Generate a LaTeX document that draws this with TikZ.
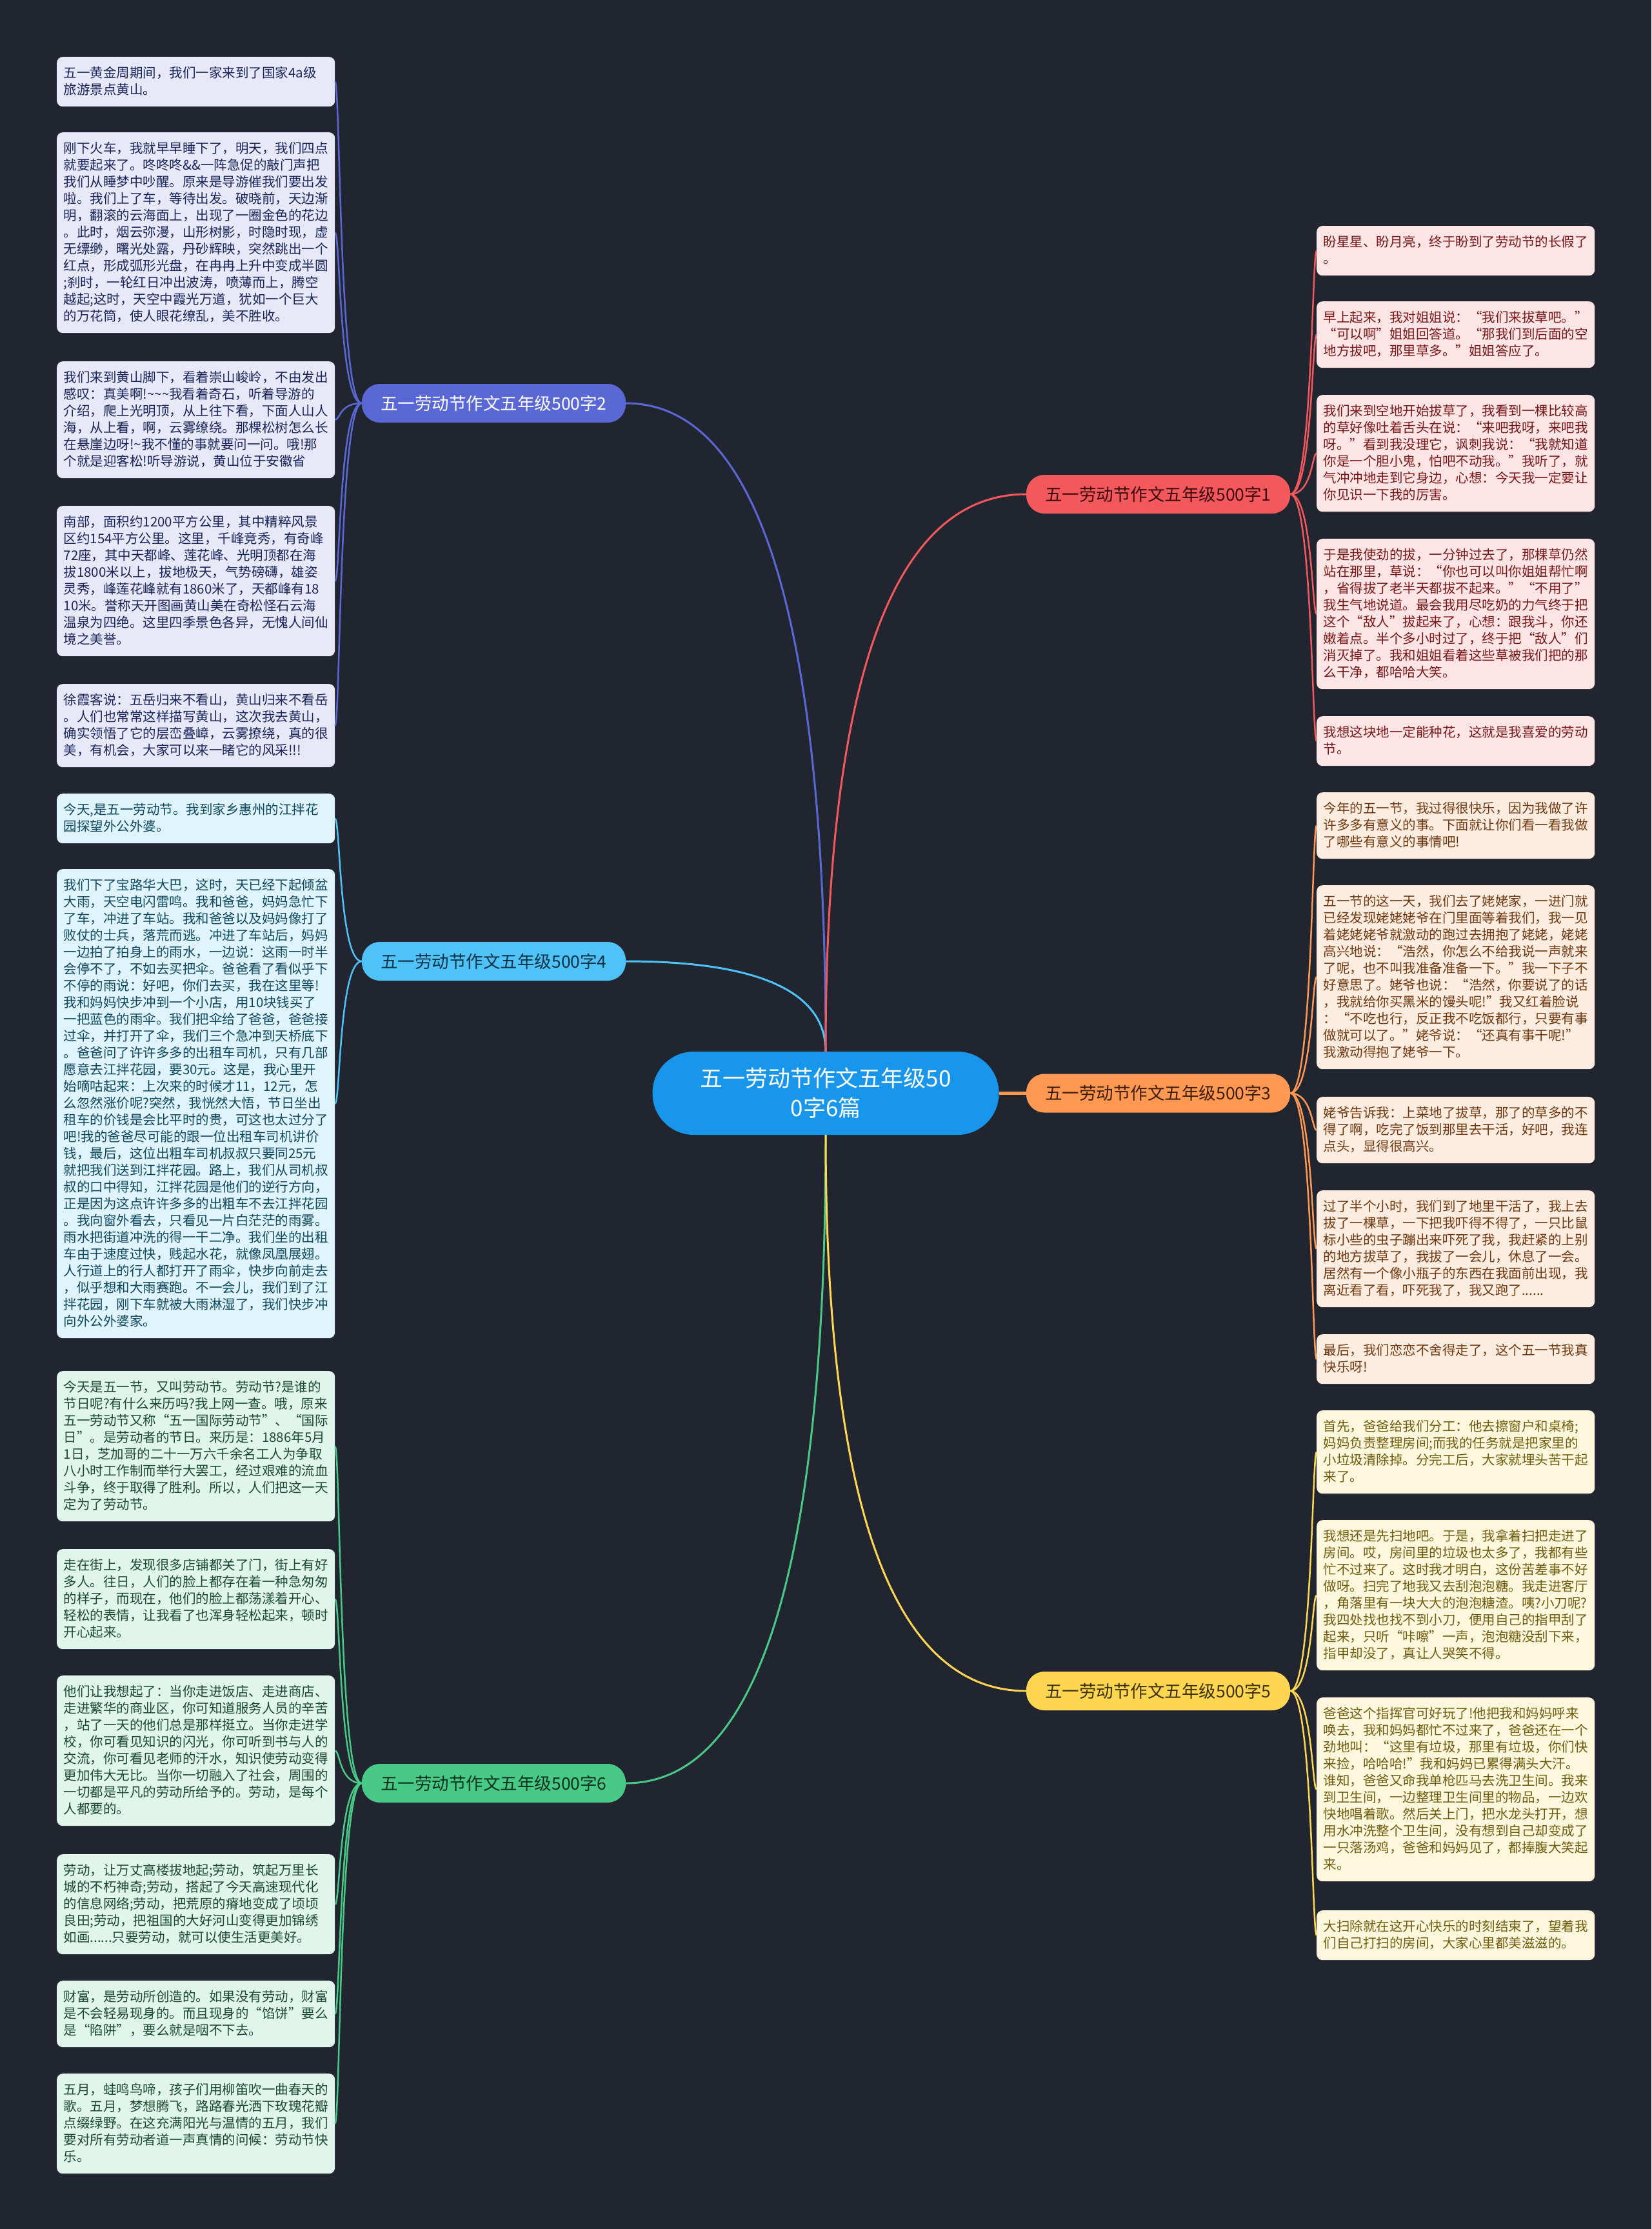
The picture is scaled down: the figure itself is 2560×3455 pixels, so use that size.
\documentclass[tikz,border=0pt]{standalone}
\usepackage{fontspec}
\setmainfont{Noto Sans CJK SC}
\definecolor{bg}{RGB}{33,37,48}
\definecolor{rootc}{RGB}{24,150,235}
\definecolor{c1}{RGB}{242,88,92}
\definecolor{c2}{RGB}{90,104,214}
\definecolor{c3}{RGB}{255,152,82}
\definecolor{c4}{RGB}{79,195,247}
\definecolor{c5}{RGB}{255,214,82}
\definecolor{c6}{RGB}{72,202,134}
\definecolor{f1}{RGB}{253,229,229}\definecolor{t1}{RGB}{122,22,24}
\definecolor{f2}{RGB}{231,233,248}\definecolor{t2}{RGB}{26,36,92}
\definecolor{f3}{RGB}{253,236,224}\definecolor{t3}{RGB}{112,56,16}
\definecolor{f4}{RGB}{223,244,253}\definecolor{t4}{RGB}{14,72,94}
\definecolor{f5}{RGB}{253,247,222}\definecolor{t5}{RGB}{112,92,14}
\definecolor{f6}{RGB}{224,245,235}\definecolor{t6}{RGB}{28,74,48}
\definecolor{bt1}{RGB}{60,10,10}
\definecolor{bt3}{RGB}{60,30,5}
\definecolor{bt4}{RGB}{10,50,70}
\definecolor{bt5}{RGB}{60,50,0}
\definecolor{bt6}{RGB}{10,50,30}
\newcommand{\mlin}[1]{\rule[-6.5pt]{0pt}{26pt}\mbox{#1}}
\tikzset{
  leaf/.style={anchor=north west, rounded corners=9pt, inner xsep=10.5pt, inner ysep=12.5pt,
    text width=410pt, align=left, font=\fontsize{20.5pt}{26pt}\selectfont},
  leafa/.style={leaf, fill=f1, text=t1},
  leafb/.style={leaf, fill=f2, text=t2},
  leafc/.style={leaf, fill=f3, text=t3},
  leafd/.style={leaf, fill=f4, text=t4},
  leafe/.style={leaf, fill=f5, text=t5},
  leaff/.style={leaf, fill=f6, text=t6},
  branch/.style={rounded corners=28pt, minimum width=409pt, minimum height=60pt, inner sep=0pt,
    font=\fontsize{26.5pt}{30pt}\selectfont},
  rootnode/.style={rounded corners=64pt, minimum width=537pt, minimum height=129pt, inner sep=0pt,
    fill=rootc, text=white, align=center, font=\fontsize{35pt}{46pt}\selectfont},
  lk/.style={line width=2.5pt},
  rk/.style={line width=3pt},
}
\begin{document}
\begin{tikzpicture}[x=1pt,y=-1pt]
\useasboundingbox (0,0) rectangle (2560,3455);
\fill[bg] (0,0) rectangle (2560,3455);

% root and branches
\node[rootnode] (root) at (1280,1694.5) {五一劳动节作文五年级50\\0字6篇};
\node[branch, fill=c2, text=white] (b2) at (765.5,625) {五一劳动节作文五年级500字2};
\node[branch, fill=c4, text=bt4] (b4) at (765.5,1490) {五一劳动节作文五年级500字4};
\node[branch, fill=c6, text=bt6] (b6) at (765.5,2764) {五一劳动节作文五年级500字6};
\node[branch, fill=c1, text=bt1] (b1) at (1795.5,766) {五一劳动节作文五年级500字1};
\node[branch, fill=c3, text=bt3] (b3) at (1795.5,1694.5) {五一劳动节作文五年级500字3};
\node[branch, fill=c5, text=bt5] (b5) at (1795.5,2621) {五一劳动节作文五年级500字5};

% root connectors
\draw[rk, c2] (root.north) .. controls (1280,960) and (1176,625) .. (b2.east);
\draw[rk, c4] (root.north) .. controls (1280,1537) and (1176,1490) .. (b4.east);
\draw[rk, c1] (root.north) .. controls (1280,1054) and (1384,766) .. (b1.west);
\draw[rk, c6] (root.south) .. controls (1280,2429) and (1176,2764) .. (b6.east);
\draw[rk, c5] (root.south) .. controls (1280,2334) and (1384,2621) .. (b5.west);
\draw[line width=4.5pt, c3] (root.east) -- (b3.west);

% ---------- branch 2 leaves ----------
\node[leafb] (l2a) at (88,88) {\mlin{五一黄金周期间，我们一家来到了国家4a级}\\\mlin{旅游景点黄山。}};
\node[leafb] (l2b) at (88,205) {\mlin{刚下火车，我就早早睡下了，明天，我们四点}\\\mlin{就要起来了。咚咚咚\&\&一阵急促的敲门声把}\\\mlin{我们从睡梦中吵醒。原来是导游催我们要出发}\\\mlin{啦。我们上了车，等待出发。破晓前，天边渐}\\\mlin{明，翻滚的云海面上，出现了一圈金色的花边}\\\mlin{。此时，烟云弥漫，山形树影，时隐时现，虚}\\\mlin{无缥缈，曙光处露，丹砂辉映，突然跳出一个}\\\mlin{红点，形成弧形光盘，在冉冉上升中变成半圆}\\\mlin{;刹时，一轮红日冲出波涛，喷薄而上，腾空}\\\mlin{越起;这时，天空中霞光万道，犹如一个巨大}\\\mlin{的万花筒，使人眼花缭乱，美不胜收。}};
\node[leafb] (l2c) at (88,560) {\mlin{我们来到黄山脚下，看着崇山峻岭，不由发出}\\\mlin{感叹：真美啊!\textasciitilde\textasciitilde\textasciitilde 我看着奇石，听着导游的}\\\mlin{介绍，爬上光明顶，从上往下看，下面人山人}\\\mlin{海，从上看，啊，云雾缭绕。那棵松树怎么长}\\\mlin{在悬崖边呀!\textasciitilde 我不懂的事就要问一问。哦!那}\\\mlin{个就是迎客松!听导游说，黄山位于安徽省}};
\node[leafb] (l2d) at (88,784) {\mlin{南部，面积约1200平方公里，其中精粹风景}\\\mlin{区约154平方公里。这里，千峰竞秀，有奇峰}\\\mlin{72座，其中天都峰、莲花峰、光明顶都在海}\\\mlin{拔1800米以上，拔地极天，气势磅礴，雄姿}\\\mlin{灵秀，峰莲花峰就有1860米了，天都峰有18}\\\mlin{10米。誉称天开图画黄山美在奇松怪石云海}\\\mlin{温泉为四绝。这里四季景色各异，无愧人间仙}\\\mlin{境之美誉。}};
\node[leafb] (l2e) at (88,1060) {\mlin{徐霞客说：五岳归来不看山，黄山归来不看岳}\\\mlin{。人们也常常这样描写黄山，这次我去黄山，}\\\mlin{确实领悟了它的层峦叠嶂，云雾撩绕，真的很}\\\mlin{美，有机会，大家可以来一睹它的风采!!!}};

% ---------- branch 4 leaves ----------
\node[leafd] (l4a) at (88,1230) {\mlin{今天,是五一劳动节。我到家乡惠州的江拌花}\\\mlin{园探望外公外婆。}};
\node[leafd] (l4b) at (88,1347) {\mlin{我们下了宝路华大巴，这时，天已经下起倾盆}\\\mlin{大雨，天空电闪雷鸣。我和爸爸，妈妈急忙下}\\\mlin{了车，冲进了车站。我和爸爸以及妈妈像打了}\\\mlin{败仗的士兵，落荒而逃。冲进了车站后，妈妈}\\\mlin{一边拍了拍身上的雨水，一边说：这雨一时半}\\\mlin{会停不了，不如去买把伞。爸爸看了看似乎下}\\\mlin{不停的雨说：好吧，你们去买，我在这里等!}\\\mlin{我和妈妈快步冲到一个小店，用10块钱买了}\\\mlin{一把蓝色的雨伞。我们把伞给了爸爸，爸爸接}\\\mlin{过伞，并打开了伞，我们三个急冲到天桥底下}\\\mlin{。爸爸问了许许多多的出租车司机，只有几部}\\\mlin{愿意去江拌花园，要30元。这是，我心里开}\\\mlin{始嘀咕起来：上次来的时候才11，12元，怎}\\\mlin{么忽然涨价呢?突然，我恍然大悟，节日坐出}\\\mlin{租车的价钱是会比平时的贵，可这也太过分了}\\\mlin{吧!我的爸爸尽可能的跟一位出租车司机讲价}\\\mlin{钱，最后，这位出粗车司机叔叔只要同25元}\\\mlin{就把我们送到江拌花园。路上，我们从司机叔}\\\mlin{叔的口中得知，江拌花园是他们的逆行方向，}\\\mlin{正是因为这点许许多多的出粗车不去江拌花园}\\\mlin{。我向窗外看去，只看见一片白茫茫的雨雾。}\\\mlin{雨水把街道冲洗的得一干二净。我们坐的出租}\\\mlin{车由于速度过快，贱起水花，就像凤凰展翅。}\\\mlin{人行道上的行人都打开了雨伞，快步向前走去}\\\mlin{，似乎想和大雨赛跑。不一会儿，我们到了江}\\\mlin{拌花园，刚下车就被大雨淋湿了，我们快步冲}\\\mlin{向外公外婆家。}};

% ---------- branch 6 leaves ----------
\node[leaff] (l6a) at (88,2125) {\mlin{今天是五一节，又叫劳动节。劳动节?是谁的}\\\mlin{节日呢?有什么来历吗?我上网一查。哦，原来}\\\mlin{五一劳动节又称“五一国际劳动节”、“国际}\\\mlin{日”。是劳动者的节日。来历是：1886年5月}\\\mlin{1日，芝加哥的二十一万六千余名工人为争取}\\\mlin{八小时工作制而举行大罢工，经过艰难的流血}\\\mlin{斗争，终于取得了胜利。所以，人们把这一天}\\\mlin{定为了劳动节。}};
\node[leaff] (l6b) at (88,2401) {\mlin{走在街上，发现很多店铺都关了门，街上有好}\\\mlin{多人。往日，人们的脸上都存在着一种急匆匆}\\\mlin{的样子，而现在，他们的脸上都荡漾着开心、}\\\mlin{轻松的表情，让我看了也浑身轻松起来，顿时}\\\mlin{开心起来。}};
\node[leaff] (l6c) at (88,2597) {\mlin{他们让我想起了：当你走进饭店、走进商店、}\\\mlin{走进繁华的商业区，你可知道服务人员的辛苦}\\\mlin{，站了一天的他们总是那样挺立。当你走进学}\\\mlin{校，你可看见知识的闪光，你可听到书与人的}\\\mlin{交流，你可看见老师的汗水，知识使劳动变得}\\\mlin{更加伟大无比。当你一切融入了社会，周围的}\\\mlin{一切都是平凡的劳动所给予的。劳动，是每个}\\\mlin{人都要的。}};
\node[leaff] (l6d) at (88,2874) {\mlin{劳动，让万丈高楼拔地起;劳动，筑起万里长}\\\mlin{城的不朽神奇;劳动，搭起了今天高速现代化}\\\mlin{的信息网络;劳动，把荒原的瘠地变成了顷顷}\\\mlin{良田;劳动，把祖国的大好河山变得更加锦绣}\\\mlin{如画......只要劳动，就可以使生活更美好。}};
\node[leaff] (l6e) at (88,3070) {\mlin{财富，是劳动所创造的。如果没有劳动，财富}\\\mlin{是不会轻易现身的。而且现身的“馅饼”要么}\\\mlin{是“陷阱”，要么就是咽不下去。}};
\node[leaff] (l6f) at (88,3214) {\mlin{五月，蛙鸣鸟啼，孩子们用柳笛吹一曲春天的}\\\mlin{歌。五月，梦想腾飞，路路春光洒下玫瑰花瓣}\\\mlin{点缀绿野。在这充满阳光与温情的五月，我们}\\\mlin{要对所有劳动者道一声真情的问候：劳动节快}\\\mlin{乐。}};

% ---------- branch 1 leaves ----------
\node[leafa] (r1a) at (2041,350) {\mlin{盼星星、盼月亮，终于盼到了劳动节的长假了}\\\mlin{。}};
\node[leafa] (r1b) at (2041,467) {\mlin{早上起来，我对姐姐说：“我们来拔草吧。”}\\\mlin{“可以啊”姐姐回答道。“那我们到后面的空}\\\mlin{地方拔吧，那里草多。”姐姐答应了。}};
\node[leafa] (r1c) at (2041,612) {\mlin{我们来到空地开始拔草了，我看到一棵比较高}\\\mlin{的草好像吐着舌头在说：“来吧我呀，来吧我}\\\mlin{呀。”看到我没理它，讽刺我说：“我就知道}\\\mlin{你是一个胆小鬼，怕吧不动我。”我听了，就}\\\mlin{气冲冲地走到它身边，心想：今天我一定要让}\\\mlin{你见识一下我的厉害。}};
\node[leafa] (r1d) at (2041,835) {\mlin{于是我使劲的拔，一分钟过去了，那棵草仍然}\\\mlin{站在那里，草说：“你也可以叫你姐姐帮忙啊}\\\mlin{，省得拔了老半天都拔不起来。”“不用了”}\\\mlin{我生气地说道。最会我用尽吃奶的力气终于把}\\\mlin{这个“敌人”拔起来了，心想：跟我斗，你还}\\\mlin{嫩着点。半个多小时过了，终于把“敌人”们}\\\mlin{消灭掉了。我和姐姐看着这些草被我们把的那}\\\mlin{么干净，都哈哈大笑。}};
\node[leafa] (r1e) at (2041,1110) {\mlin{我想这块地一定能种花，这就是我喜爱的劳动}\\\mlin{节。}};

% ---------- branch 3 leaves ----------
\node[leafc] (r3a) at (2041,1228) {\mlin{今年的五一节，我过得很快乐，因为我做了许}\\\mlin{许多多有意义的事。下面就让你们看一看我做}\\\mlin{了哪些有意义的事情吧!}};
\node[leafc] (r3b) at (2041,1372) {\mlin{五一节的这一天，我们去了姥姥家，一进门就}\\\mlin{已经发现姥姥姥爷在门里面等着我们，我一见}\\\mlin{着姥姥姥爷就激动的跑过去拥抱了姥姥，姥姥}\\\mlin{高兴地说：“浩然，你怎么不给我说一声就来}\\\mlin{了呢，也不叫我准备准备一下。”我一下子不}\\\mlin{好意思了。姥爷也说：“浩然，你要说了的话}\\\mlin{，我就给你买黑米的馒头呢!”我又红着脸说}\\\mlin{：“不吃也行，反正我不吃饭都行，只要有事}\\\mlin{做就可以了。”姥爷说：“还真有事干呢!”}\\\mlin{我激动得抱了姥爷一下。}};
\node[leafc] (r3c) at (2041,1700) {\mlin{姥爷告诉我：上菜地了拔草，那了的草多的不}\\\mlin{得了啊，吃完了饭到那里去干活，好吧，我连}\\\mlin{点头，显得很高兴。}};
\node[leafc] (r3d) at (2041,1845) {\mlin{过了半个小时，我们到了地里干活了，我上去}\\\mlin{拔了一棵草，一下把我吓得不得了，一只比鼠}\\\mlin{标小些的虫子蹦出来吓死了我，我赶紧的上别}\\\mlin{的地方拔草了，我拔了一会儿，休息了一会。}\\\mlin{居然有一个像小瓶子的东西在我面前出现，我}\\\mlin{离近看了看，吓死我了，我又跑了......}};
\node[leafc] (r3e) at (2041,2068) {\mlin{最后，我们恋恋不舍得走了，这个五一节我真}\\\mlin{快乐呀!}};

% ---------- branch 5 leaves ----------
\node[leafe] (r5a) at (2041,2186) {\mlin{首先，爸爸给我们分工：他去擦窗户和桌椅;}\\\mlin{妈妈负责整理房间;而我的任务就是把家里的}\\\mlin{小垃圾清除掉。分完工后，大家就埋头苦干起}\\\mlin{来了。}};
\node[leafe] (r5b) at (2041,2356) {\mlin{我想还是先扫地吧。于是，我拿着扫把走进了}\\\mlin{房间。哎，房间里的垃圾也太多了，我都有些}\\\mlin{忙不过来了。这时我才明白，这份苦差事不好}\\\mlin{做呀。扫完了地我又去刮泡泡糖。我走进客厅}\\\mlin{，角落里有一块大大的泡泡糖渣。咦?小刀呢?}\\\mlin{我四处找也找不到小刀，便用自己的指甲刮了}\\\mlin{起来，只听“咔嚓”一声，泡泡糖没刮下来，}\\\mlin{指甲却没了，真让人哭笑不得。}};
\node[leafe] (r5c) at (2041,2631) {\mlin{爸爸这个指挥官可好玩了!他把我和妈妈呼来}\\\mlin{唤去，我和妈妈都忙不过来了，爸爸还在一个}\\\mlin{劲地叫：“这里有垃圾，那里有垃圾，你们快}\\\mlin{来捡，哈哈哈!”我和妈妈已累得满头大汗。}\\\mlin{谁知，爸爸又命我单枪匹马去洗卫生间。我来}\\\mlin{到卫生间，一边整理卫生间里的物品，一边欢}\\\mlin{快地唱着歌。然后关上门，把水龙头打开，想}\\\mlin{用水冲洗整个卫生间，没有想到自己却变成了}\\\mlin{一只落汤鸡，爸爸和妈妈见了，都捧腹大笑起}\\\mlin{来。}};
\node[leafe] (r5d) at (2041,2961) {\mlin{大扫除就在这开心快乐的时刻结束了，望着我}\\\mlin{们自己打扫的房间，大家心里都美滋滋的。}};

% ---------- leaf connectors ----------
\foreach \l in {l2a,l2b,l2c,l2d,l2e}
  \draw[lk, c2] (b2.west) .. controls ([xshift=-35pt]b2.west) and ([xshift=8pt]\l.east) .. (\l.east);
\foreach \l in {l4a,l4b}
  \draw[lk, c4] (b4.west) .. controls ([xshift=-35pt]b4.west) and ([xshift=8pt]\l.east) .. (\l.east);
\foreach \l in {l6a,l6b,l6c,l6d,l6e,l6f}
  \draw[lk, c6] (b6.west) .. controls ([xshift=-35pt]b6.west) and ([xshift=8pt]\l.east) .. (\l.east);
\foreach \l in {r1a,r1b,r1c,r1d,r1e}
  \draw[lk, c1] (b1.east) .. controls ([xshift=34pt]b1.east) and ([xshift=-7pt]\l.west) .. (\l.west);
\foreach \l in {r3a,r3b,r3c,r3d,r3e}
  \draw[lk, c3] (b3.east) .. controls ([xshift=34pt]b3.east) and ([xshift=-7pt]\l.west) .. (\l.west);
\foreach \l in {r5a,r5b,r5c,r5d}
  \draw[lk, c5] (b5.east) .. controls ([xshift=34pt]b5.east) and ([xshift=-7pt]\l.west) .. (\l.west);
\end{tikzpicture}
\end{document}
